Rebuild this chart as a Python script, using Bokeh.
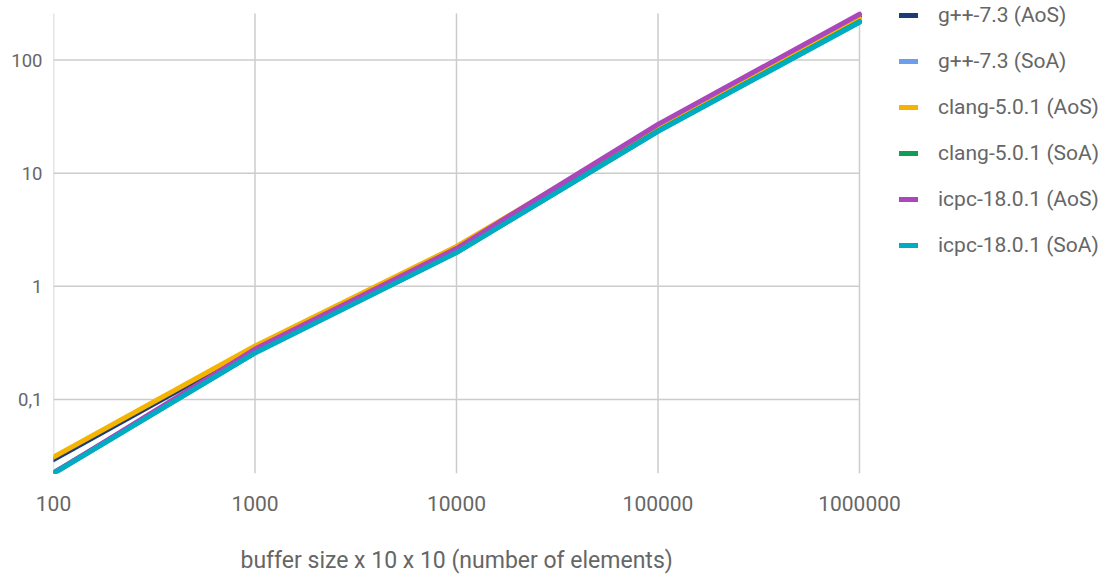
import math
from bokeh.plotting import figure
from bokeh.models import Range1d, FixedTicker, Legend, LegendItem, Title
from bokeh.embed import file_html
from bokeh.resources import INLINE

sizes = [100, 1000, 10000, 100000, 1000000]
series_names = ["g++-7.3 (AoS)", "g++-7.3 (SoA)", "clang-5.0.1 (AoS)",
                "clang-5.0.1 (SoA)", "icpc-18.0.1 (AoS)", "icpc-18.0.1 (SoA)"]
gpp_aos = [0.0295, 0.285, 2.2, 25.0, 240]
gpp_soa = [0.0226, 0.262, 2.02, 23.8, 220]
clang_aos = [0.031, 0.297, 2.25, 25.4, 234]
clang_soa = [0.0224, 0.26, 2.0, 23.6, 218]
icpc_aos = [0.0223, 0.279, 2.16, 27.0, 254]
icpc_soa = [0.0222, 0.258, 1.99, 23.4, 216]
colors = ["#1c3c78", "#6d9eeb", "#f4b400", "#0f9d58", "#ab47bc", "#00acc1"]

y_ticks = [0.1, 1, 10, 100]
y_tick_labels = ["0,1", "1", "10", "100"]
x_tick_labels = ["100", "1000", "10000", "100000", "1000000"]
x_title = "buffer size x 10 x 10 (number of elements)"
y_min, y_max = 0.0222, 258
x_min, x_max = 100, 1000000

FONT = "Roboto"
TXT = "#666666"

# layout geometry (pixels)
W, H = 1100, 579
LEFT, BOTTOM = 53, 104
DATA_W, DATA_H, DATA_TOP = 806, 462, 13
frame_w = W - LEFT
x_dec = DATA_W / (math.log10(x_max) - math.log10(x_min))
y_dec = DATA_H / (math.log10(y_max) - math.log10(y_min))
x_end = 10 ** (math.log10(x_max) + (frame_w - DATA_W) / x_dec)
y_end = 10 ** (math.log10(y_max) + DATA_TOP / y_dec)

p = figure(width=W, height=H, x_axis_type="log", y_axis_type="log",
           x_range=Range1d(x_min, x_end), y_range=Range1d(y_min, y_end),
           output_backend="svg", toolbar_location=None,
           min_border_left=LEFT, min_border_right=0, min_border_top=0, min_border_bottom=BOTTOM)
p.outline_line_color = None
p.grid.visible = False

# grid lines limited to the data area
GRID = "#cccccc"
p.segment(x0=sizes, y0=[y_min] * len(sizes), x1=sizes, y1=[y_max] * len(sizes),
          line_color=GRID, line_width=1.5)
p.segment(x0=[x_min] * len(y_ticks), y0=y_ticks, x1=[x_max] * len(y_ticks), y1=y_ticks,
          line_color=GRID, line_width=1.5)

all_series = [gpp_aos, gpp_soa, clang_aos, clang_soa, icpc_aos, icpc_soa]
items = []
for name, vals, c in zip(series_names, all_series, colors):
    r = p.line(sizes, vals, line_color=c, line_width=5, line_join="round", line_cap="round")
    items.append(LegendItem(label=name, renderers=[r]))

p.xaxis.ticker = FixedTicker(ticks=sizes)
p.xaxis.major_label_overrides = {v: l for v, l in zip(sizes, x_tick_labels)}
p.yaxis.ticker = FixedTicker(ticks=y_ticks)
p.yaxis.major_label_overrides = {v: l for v, l in zip(y_ticks, y_tick_labels)}
for ax in (p.xaxis[0], p.yaxis[0]):
    ax.axis_line_color = None
    ax.major_tick_line_color = None
    ax.minor_tick_line_color = None
    ax.major_tick_out = 0
    ax.major_tick_in = 0
    ax.minor_tick_out = 0
    ax.minor_tick_in = 0
    ax.major_label_text_font = FONT
    ax.major_label_text_color = TXT
p.xaxis.major_label_text_font_size = "21px"
p.yaxis.major_label_text_font_size = "18.5px"
p.xaxis.major_label_standoff = 22
p.yaxis.major_label_standoff = 11
# blank spacer label to push the title panel down
p.xaxis.axis_label = " "
p.xaxis.axis_label_text_font_size = "12px"
p.xaxis.axis_label_standoff = 8

# x axis title placed under the data area (left aligned at computed offset)
p.add_layout(Title(text=x_title, align="left", offset=187, standoff=12,
                   text_font=FONT, text_font_size="23px", text_font_style="normal",
                   text_color=TXT), "below")

legend = Legend(items=items, location=(846, 216), orientation="vertical",
                border_line_color=None, background_fill_alpha=0,
                padding=0, margin=0, spacing=22,
                glyph_width=19, glyph_height=24, label_height=24, label_standoff=20,
                label_text_font=FONT, label_text_font_size="21px", label_text_color=TXT,
                label_text_baseline="middle")
p.add_layout(legend, "center")

open("out.html", "w").write(file_html(p, INLINE))
